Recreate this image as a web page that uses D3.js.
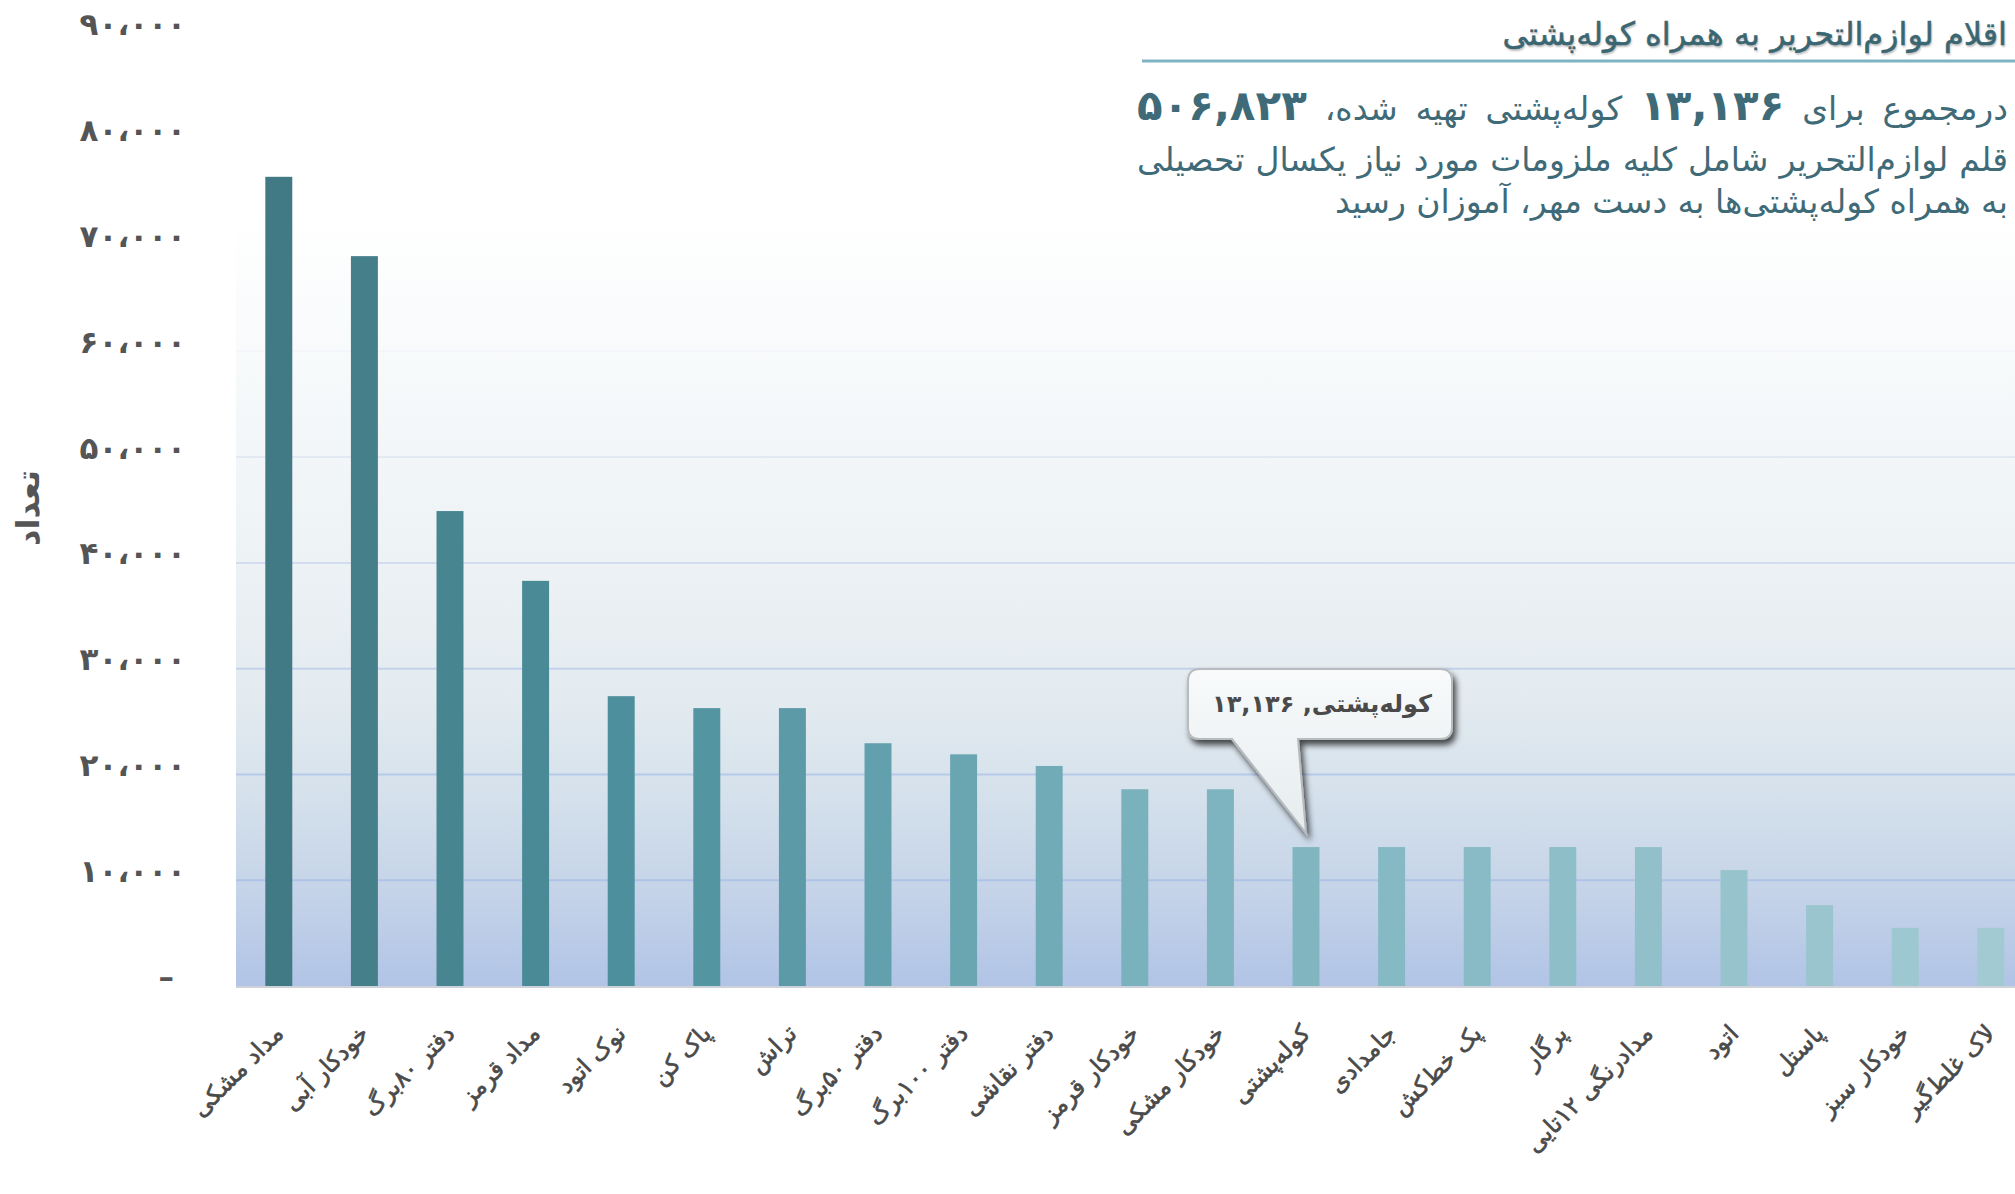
<!DOCTYPE html>
<html>
<head>
<meta charset="utf-8">
<script src="https://cdnjs.cloudflare.com/ajax/libs/d3/7.8.5/d3.min.js"></script>
<style>
  html, body { margin: 0; padding: 0; background: #fff; }
  body { width: 2015px; height: 1194px; overflow: hidden; position: relative; font-family: "DejaVu Sans", sans-serif; }
  #chart { position: absolute; left: 0; top: 0; }
  .title { position: absolute; right: 8px; top: 14px; direction: rtl; color: #3a6672; font-size: 32px; white-space: nowrap;
           text-shadow: 1px 2px 2px rgba(0,0,0,0.25); line-height: 40px; -webkit-text-stroke: 0.5px #3a6672; }
  .line { position: absolute; left: 1137px; width: 871px; direction: rtl; color: #3f6b78; font-size: 33px; line-height: 40px; height: 40px; }
  .just { text-align: justify; text-align-last: justify; }
  .big { font-size: 42px; font-weight: bold; }
</style>
</head>
<body>
<div id="chart"></div>
<script>
// ---- data ----
var categories = [
  "مداد مشکی", "خودکار آبی", "دفتر ۸۰برگ", "مداد قرمز", "نوک اتود", "پاک کن", "تراش",
  "دفتر ۵۰برگ", "دفتر ۱۰۰برگ", "دفتر نقاشی", "خودکار قرمز", "خودکار مشکی",
  "کوله\u200cپشتی", "جامدادی", "پک خط\u200cکش", "پرگار", "مدادرنگی ۱۲تایی",
  "اتود", "پاستل", "خودکار سبز", "لاک غلط\u200cگیر"
];
var values = [
  76500, 69000, 44900, 38300, 27400, 26270, 26270,
  22950, 21900, 20800, 18600, 18600,
  13136, 13136, 13136, 13136, 13136,
  10950, 7650, 5500, 5500
];
var yTicks = [0, 10000, 20000, 30000, 40000, 50000, 60000, 70000, 80000, 90000];
var yTitle = "تعداد";
var chartTitle = "اقلام لوازم\u200cالتحریر به همراه کوله\u200cپشتی";
var totalBags = 13136, totalItems = 506823;
var noteLine2 = "قلم لوازم\u200cالتحریر شامل کلیه ملزومات مورد نیاز یکسال تحصیلی";
var noteLine3 = "به همراه کوله\u200cپشتی\u200cها به دست مهر، آموزان رسید";
var highlight = 12; // کوله‌پشتی gets the callout

// persian digits
function fa(s) {
  return String(s).replace(/\d/g, function(d) { return "۰۱۲۳۴۵۶۷۸۹"[+d]; });
}
var comma = d3.format(",");

var W = 2015, H = 1194;
var plotLeft = 236, plotBase = 986, plotTop = 34;

var svg = d3.select("#chart").append("svg")
  .attr("width", W).attr("height", H);

var defs = svg.append("defs");
var bg = defs.append("linearGradient").attr("id", "bg")
  .attr("x1", 0).attr("y1", 0).attr("x2", 0).attr("y2", 1);
[[0, "#ffffff"], [0.19, "#ffffff"], [0.45, "#f2f6f8"], [0.55, "#edf2f5"], [0.70, "#e3ebf0"],
 [0.805, "#d4e0eb"], [0.91, "#c3d2e8"], [1, "#b1c4e6"]].forEach(function(s) {
  bg.append("stop").attr("offset", s[0]).attr("stop-color", s[1]);
});
var cg = defs.append("linearGradient").attr("id", "callfill")
  .attr("x1", 0).attr("y1", 0).attr("x2", 0).attr("y2", 1);
cg.append("stop").attr("offset", 0).attr("stop-color", "#f8fafb");
cg.append("stop").attr("offset", 1).attr("stop-color", "#e6ecee");
defs.append("filter").attr("id", "shadow")
  .attr("x", "-20%").attr("y", "-20%").attr("width", "150%").attr("height", "160%")
  .append("feDropShadow").attr("dx", 3).attr("dy", 5).attr("stdDeviation", 3)
  .attr("flood-color", "#000").attr("flood-opacity", 0.7);

// scales
var x = d3.scaleBand()
  .domain(categories)
  .range([plotLeft, plotLeft + 21 * 85.6])
  .paddingInner(0.685)
  .paddingOuter(0.3425);
var y = d3.scaleLinear()
  .domain([0, 90000])
  .range([plotBase, plotTop]);
var color = d3.scaleLinear()
  .domain([0, 4, 10, 20])
  .range(["#417a84", "#4d8f9c", "#79b1bd", "#a2cad3"]);

// plot background
svg.append("rect")
  .attr("x", plotLeft).attr("y", plotTop)
  .attr("width", W - plotLeft).attr("height", plotBase - plotTop)
  .attr("fill", "url(#bg)");

// gridlines, fading out towards the top
svg.append("g").selectAll("line")
  .data(yTicks.filter(function(d) { return d > 0; }))
  .enter().append("line")
  .attr("x1", plotLeft).attr("x2", W)
  .attr("y1", function(d) { return y(d); })
  .attr("y2", function(d) { return y(d); })
  .attr("stroke", "#aec2e8")
  .attr("stroke-width", 2)
  .attr("stroke-opacity", function(d) { return Math.max(0, Math.min(1, 1.15 - d / 55000)); });

// y axis
var yAxis = svg.append("g")
  .attr("transform", "translate(" + plotLeft + ",0)")
  .call(d3.axisLeft(y).tickValues(yTicks).tickSize(0).tickPadding(50)
    .tickFormat(function(d) { return d === 0 ? "–" : fa(comma(d)).replace(/,/g, "،"); }));
yAxis.select(".domain").remove();
yAxis.selectAll("text")
  .attr("y", -9)
  .attr("dx", function(d) { return d === 0 ? -12 : 0; })
  .style("font-family", "DejaVu Sans")
  .style("font-size", "31px")
  .style("font-weight", "bold")
  .attr("fill", "#555");

svg.append("text")
  .attr("transform", "translate(28,508) rotate(-90)")
  .attr("text-anchor", "middle")
  .attr("dy", "0.35em")
  .style("font-family", "DejaVu Sans")
  .style("font-size", "32px")
  .style("font-weight", "bold")
  .attr("fill", "#555")
  .text(yTitle);

// bars
svg.append("g").selectAll("rect")
  .data(values)
  .enter().append("rect")
  .attr("x", function(d, i) { return x(categories[i]); })
  .attr("y", function(d) { return y(d); })
  .attr("width", x.bandwidth())
  .attr("height", function(d) { return y(0) - y(d); })
  .attr("fill", function(d, i) { return color(i); });

// x axis line + labels
svg.append("line")
  .attr("x1", plotLeft).attr("x2", W)
  .attr("y1", plotBase + 1).attr("y2", plotBase + 1)
  .attr("stroke", "#cdd1d8").attr("stroke-width", 2);

var xAxis = svg.append("g")
  .attr("transform", "translate(0," + plotBase + ")")
  .call(d3.axisBottom(x).tickSize(0));
xAxis.select(".domain").remove();
xAxis.selectAll("text")
  .attr("x", 0).attr("y", 0)
  .attr("dy", "0.35em")
  .attr("transform", "translate(0,43) rotate(-45)")
  .attr("direction", "rtl")
  .attr("text-anchor", "start")
  .style("font-family", "DejaVu Sans")
  .style("font-size", "24px")
  .attr("fill", "#4a4a4a")
  .attr("stroke", "#4a4a4a")
  .attr("stroke-width", 0.6);

// callout on the highlighted bar
var tipX = x(categories[highlight]) + x.bandwidth() / 2,
    tipY = y(values[highlight]) - 14;
var bx0 = tipX - 118, bx1 = tipX + 146, by1 = tipY - 94, by0 = by1 - 70, r = 12;
var p = d3.path();
p.moveTo(bx0 + r, by0);
p.lineTo(bx1 - r, by0);
p.quadraticCurveTo(bx1, by0, bx1, by0 + r);
p.lineTo(bx1, by1 - r);
p.quadraticCurveTo(bx1, by1, bx1 - r, by1);
p.lineTo(bx0 + 110, by1);
p.lineTo(tipX, tipY);
p.lineTo(bx0 + 44, by1);
p.lineTo(bx0 + r, by1);
p.quadraticCurveTo(bx0, by1, bx0, by1 - r);
p.lineTo(bx0, by0 + r);
p.quadraticCurveTo(bx0, by0, bx0 + r, by0);
p.closePath();
var call = svg.append("g");
call.append("path")
  .attr("d", p.toString())
  .attr("fill", "url(#callfill)")
  .attr("stroke", "#b8bcbf")
  .attr("stroke-width", 2)
  .attr("filter", "url(#shadow)");
call.append("text")
  .attr("x", (bx0 + bx1) / 2 + 2)
  .attr("y", (by0 + by1) / 2)
  .attr("dy", "0.35em")
  .attr("direction", "rtl")
  .attr("text-anchor", "middle")
  .style("font-family", "DejaVu Sans")
  .style("font-size", "24px")
  .style("font-weight", "bold")
  .attr("fill", "#4a4a4a")
  .text(categories[highlight] + ", " + fa(comma(values[highlight])));

// title + underline
svg.append("line")
  .attr("x1", 1142).attr("x2", W)
  .attr("y1", 61).attr("y2", 61)
  .attr("stroke", "#7fb3c3").attr("stroke-width", 3);

var page = d3.select("body");
page.append("div").attr("class", "title").text(chartTitle);

var l1 = page.append("div").attr("class", "line just").style("top", "86px");
l1.append("span").text("درمجموع برای ");
l1.append("span").attr("class", "big").text(fa(comma(totalBags)));
l1.append("span").text(" کوله\u200cپشتی تهیه شده، ");
l1.append("span").attr("class", "big").text(fa(comma(totalItems)));

page.append("div").attr("class", "line just").style("top", "140px").text(noteLine2);
page.append("div").attr("class", "line").style("top", "182px").text(noteLine3);
</script>
</body>
</html>
